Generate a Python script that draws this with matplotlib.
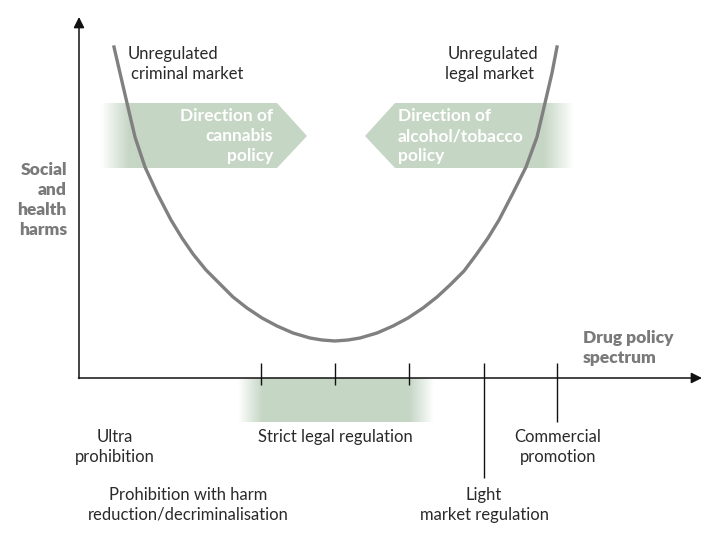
import numpy as np
import matplotlib
matplotlib.use("Agg")
import matplotlib.pyplot as plt
from matplotlib.patches import Polygon

plt.rcParams['font.family'] = ['Lato', 'DejaVu Sans']

# harm curve (pixel space, y grows downwards)
curve_x = [114, 120, 127, 135, 145, 157, 171, 182, 193, 206, 220, 233, 247, 262, 277, 293, 310, 322, 335,
           348, 360, 377, 393, 408, 423, 437, 450, 464, 476, 488, 499, 513, 526, 537, 545, 552, 557]
curve_y = [47, 73, 103, 137, 167, 193, 220, 238, 254, 270, 284, 297, 308, 318, 326, 333, 338, 340, 341,
           340, 338, 333, 326, 318, 308, 297, 285, 271, 255, 238, 220, 193, 167, 137, 103, 73, 47]

# spectrum marks on the horizontal axis
short_ticks = [261, 335, 409]
long_ticks = [484, 557]
long_tick_ends = [478, 422]

axis_x0, axis_y0 = 79, 378
axis_x1, axis_y1 = 702, 17

green = (0.78, 0.843, 0.776)
grey_txt = '#7a7a7a'
dark_txt = '#2a2a2a'

fig = plt.figure(figsize=(7.2, 5.4), dpi=100)
ax = fig.add_axes([0, 0, 1, 1])
ax.set_xlim(0, 720)
ax.set_ylim(540, 0)
ax.axis('off')


def faded_shape(verts, x0, x1, fade_in, fade_out):
    # green polygon with alpha ramps at its ends
    xs = np.linspace(x0, x1, 400)
    alpha = np.ones_like(xs)
    if fade_in:
        alpha = np.minimum(alpha, np.clip((xs - x0) / fade_in, 0, 1))
    if fade_out:
        alpha = np.minimum(alpha, np.clip((x1 - xs) / fade_out, 0, 1))
    img = np.zeros((2, len(xs), 4))
    img[..., 0], img[..., 1], img[..., 2] = green
    img[..., 3] = alpha
    ys = [v[1] for v in verts]
    im = ax.imshow(img, extent=(x0, x1, max(ys), min(ys)), aspect='auto',
                   interpolation='bilinear', zorder=1)
    poly = Polygon(verts, closed=True, facecolor='none', edgecolor='none')
    ax.add_patch(poly)
    im.set_clip_path(poly)


# direction arrows
faded_shape([(101, 103), (277, 103), (307, 136), (277, 168), (101, 168)], 101, 307, 28, 0)
faded_shape([(365, 136), (395, 103), (574, 103), (574, 168), (395, 168)], 365, 574, 0, 30)
# strict regulation band
faded_shape([(238, 378), (434, 378), (434, 422), (238, 422)], 238, 434, 24, 24)

ax.text(273, 136, "Direction of\ncannabis\npolicy", color='white', fontsize=12.5, fontweight='bold',
        ha='right', va='center', linespacing=1.3, zorder=3)
ax.text(398, 136, "Direction of\nalcohol/tobacco\npolicy", color='white', fontsize=12.5, fontweight='bold',
        ha='left', va='center', linespacing=1.3, zorder=3)

# curve
ax.plot(curve_x, curve_y, color='#808080', lw=2.4, solid_joinstyle='round', zorder=4)

# axes with arrowheads
ax.annotate('', xy=(axis_x0, axis_y1), xytext=(axis_x0, axis_y0 + 0.5),
            arrowprops=dict(arrowstyle='-|>', lw=1.1, color='#111111', mutation_scale=16, shrinkA=0, shrinkB=0))
ax.annotate('', xy=(axis_x1, axis_y0), xytext=(axis_x0 - 0.5, axis_y0),
            arrowprops=dict(arrowstyle='-|>', lw=1.1, color='#111111', mutation_scale=16, shrinkA=0, shrinkB=0))
ax.vlines(short_ticks, 363, 385, color='#111111', lw=1)
ax.vlines(long_ticks, 363, long_tick_ends, color='#111111', lw=1)

# labels
ax.text(128, 54, "Unregulated", fontsize=12, color=dark_txt, ha='left', va='center')
ax.text(131, 74, "criminal market", fontsize=12, color=dark_txt, ha='left', va='center')
ax.text(538, 54, "Unregulated", fontsize=12, color=dark_txt, ha='right', va='center')
ax.text(534, 74, "legal market", fontsize=12, color=dark_txt, ha='right', va='center')

ax.text(67, 200, "Social\nand\nhealth\nharms", fontsize=12.5, fontweight='heavy', color=grey_txt,
        ha='right', va='center', linespacing=1.3)
ax.text(583, 348, "Drug policy\nspectrum", fontsize=12.5, fontweight='heavy', color=grey_txt,
        ha='left', va='center', linespacing=1.3)

ax.text(115, 447, "Ultra\nprohibition", fontsize=12, color=dark_txt, ha='center', va='center', linespacing=1.3)
ax.text(188, 505, "Prohibition with harm\nreduction/decriminalisation", fontsize=12, color=dark_txt,
        ha='center', va='center', linespacing=1.3)
ax.text(335, 437, "Strict legal regulation", fontsize=12, color=dark_txt, ha='center', va='center')
ax.text(558, 447, "Commercial\npromotion", fontsize=12, color=dark_txt, ha='center', va='center', linespacing=1.3)
ax.text(484, 505, "Light\nmarket regulation", fontsize=12, color=dark_txt, ha='center', va='center', linespacing=1.3)

fig.savefig("out.png", dpi=100)
